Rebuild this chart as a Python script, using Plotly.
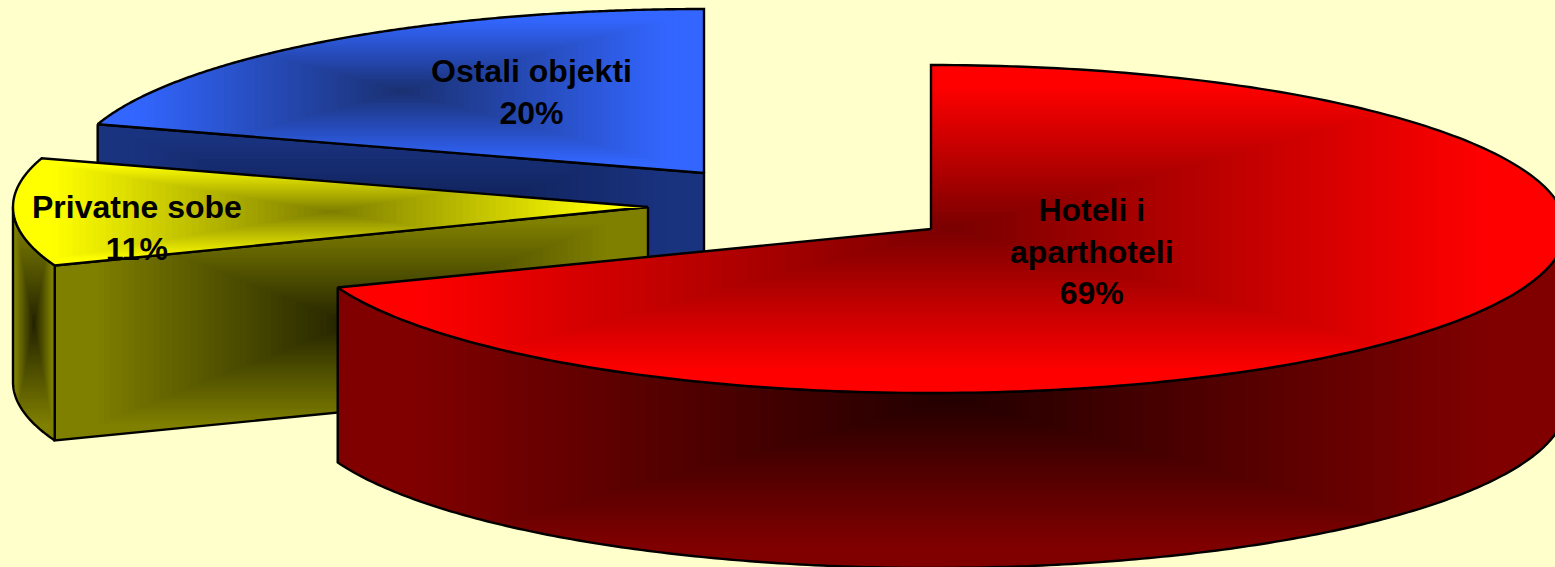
import numpy as np
import plotly.graph_objects as go

# ---- data ----
categories = ["Hoteli i<br>aparthoteli", "Privatne sobe", "Ostali objekti"]
shares = [69.2, 10.6, 20.2]

# ---- projection / style ----
W, H = 1555, 567
RX, RY, DEPTH = 635.0, 164.0, 175.0
apexes = [(931.0, 229.0), (648.0, 207.0), (704.0, 173.0)]
top_edge = ["#ff0000", "#ffff00", "#3366ff"]
top_mid = ["#780000", "#7c7c00", "#1a3070"]
wall_edge = ["#800000", "#808000", "#1a337f"]
wall_mid = ["#220000", "#222200", "#0c1a48"]
label_pos = [(1092, 251), (137, 228), (531, 92)]
LEVELS = 48
SATURATE = 0.88


def rim(cx, cy, a0, a1, n=240):
    t = np.radians(np.linspace(a0, a1, n))
    return np.column_stack([cx + RX * np.sin(t), cy - RY * np.cos(t)])


def clip_rect(poly, x0, x1, y0, y1):
    """Sutherland-Hodgman clip of a polygon to a rectangle."""
    def clip(pts, inside, cross):
        out = []
        for i in range(len(pts)):
            a, b = pts[i - 1], pts[i]
            ia, ib = inside(a), inside(b)
            if ia != ib:
                out.append(cross(a, b))
            if ib:
                out.append(b)
        return out

    def cx(v):
        return lambda a, b: (v, a[1] + (b[1] - a[1]) * (v - a[0]) / (b[0] - a[0]))

    def cy(v):
        return lambda a, b: (a[0] + (b[0] - a[0]) * (v - a[1]) / (b[1] - a[1]), v)

    pts = [tuple(p) for p in poly]
    for inside, cross in [
        (lambda p: p[0] >= x0, cx(x0)),
        (lambda p: p[0] <= x1, cx(x1)),
        (lambda p: p[1] >= y0, cy(y0)),
        (lambda p: p[1] <= y1, cy(y1)),
    ]:
        if not pts:
            return pts
        pts = clip(pts, inside, cross)
    return pts


def rgb(c):
    c = c.lstrip("#")
    return np.array([int(c[i:i + 2], 16) for i in (0, 2, 4)], float)


def add_face(fig, poly, edge, mid):
    poly = np.asarray(poly)
    x0, y0 = poly.min(axis=0)
    x1, y1 = poly.max(axis=0)
    cx, cy = (x0 + x1) / 2, (y0 + y1) / 2
    hw, hh = (x1 - x0) / 2, (y1 - y0) / 2
    ce, cm = rgb(edge), rgb(mid)
    for t in np.linspace(1, 0.02, LEVELS):
        pts = clip_rect(poly, cx - t * hw, cx + t * hw, cy - t * hh, cy + t * hh)
        if len(pts) < 3:
            continue
        k = min(t / SATURATE, 1.0)
        col = cm + (ce - cm) * k
        xs = [p[0] for p in pts] + [pts[0][0]]
        ys = [p[1] for p in pts] + [pts[0][1]]
        fig.add_trace(go.Scatter(
            x=xs, y=ys, mode="lines", fill="toself",
            fillcolor="rgb(%d,%d,%d)" % tuple(col),
            line=dict(width=0, simplify=False), hoverinfo="skip", showlegend=False,
        ))
    xs = list(poly[:, 0]) + [poly[0, 0]]
    ys = list(poly[:, 1]) + [poly[0, 1]]
    fig.add_trace(go.Scatter(
        x=xs, y=ys, mode="lines",
        line=dict(color="#000000", width=2.4, simplify=False),
        hoverinfo="skip", showlegend=False,
    ))


def walls(i, a0, a1):
    """Side faces of slice i that face the viewer, back to front."""
    cx, cy = apexes[i]
    faces = []
    lo, hi = max(a0, 90.0), min(a1, 270.0)
    if i == 2:  # back slice: only the cut plane at its start angle shows
        faces.append(np.array([rim(cx, cy, a0, a0, 1)[0], (cx, cy), (cx, cy + DEPTH),
                               rim(cx, cy + DEPTH, a0, a0, 1)[0]]))
    if i == 1:  # cut plane at start angle
        p = rim(cx, cy, a0, a0, 1)[0]
        faces.append(np.array([(cx, cy), tuple(p), (p[0], p[1] + DEPTH), (cx, cy + DEPTH)]))
    if hi > lo:
        up = rim(cx, cy, lo, hi)
        dn = rim(cx, cy + DEPTH, lo, hi)[::-1]
        faces.append(np.vstack([up, dn]))
    return faces


fracs = np.cumsum([0] + shares) / sum(shares) * 360.0

fig = go.Figure()
for i in (2, 1, 0):
    a0, a1 = fracs[i], fracs[i + 1]
    cx, cy = apexes[i]
    for f in walls(i, a0, a1):
        add_face(fig, f, wall_edge[i], wall_mid[i])
    top = np.vstack([[(cx, cy)], rim(cx, cy, a0, a1)])
    add_face(fig, top, top_edge[i], top_mid[i])

for name, v, (lx, ly) in zip(categories, shares, label_pos):
    fig.add_annotation(
        x=lx, y=ly, xref="x", yref="y", showarrow=False, align="center",
        text="<b>%s<br>%d%%</b>" % (name, round(v)),
        font=dict(family="Liberation Sans, Arial, sans-serif", size=32, color="#000000"),
    )

fig.update_layout(
    width=W, height=H, margin=dict(l=0, r=0, t=0, b=0, pad=0),
    paper_bgcolor="#ffffcc", plot_bgcolor="#ffffcc", showlegend=False,
    xaxis=dict(range=[0, W], visible=False, fixedrange=True),
    yaxis=dict(range=[H, 0], visible=False, fixedrange=True),
)
fig.write_html("out.html", config={"displayModeBar": False},
               post_script="document.body.style.margin='0';document.body.style.overflow='hidden';")
